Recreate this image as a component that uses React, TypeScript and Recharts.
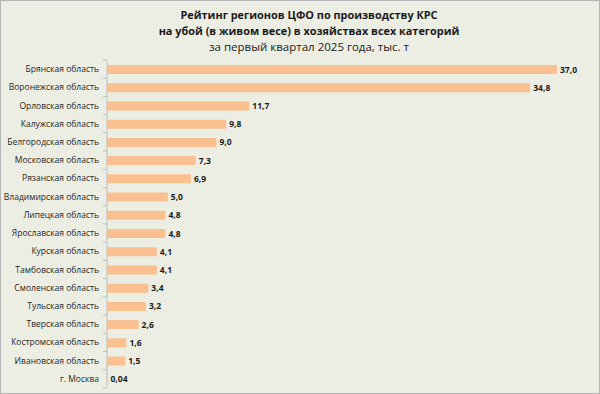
import React from 'react';
import { BarChart, Bar, XAxis, YAxis, LabelList } from 'recharts';

const regions = [
  'Брянская область',
  'Воронежская область',
  'Орловская область',
  'Калужская область',
  'Белгородская область',
  'Московская область',
  'Рязанская область',
  'Владимирская область',
  'Липецкая область',
  'Ярославская область',
  'Курская область',
  'Тамбовская область',
  'Смоленская область',
  'Тульская область',
  'Тверская область',
  'Костромская область',
  'Ивановская область',
  'г. Москва',
];
const values = [37.0, 34.8, 11.7, 9.8, 9.0, 7.3, 6.9, 5.0, 4.8, 4.8, 4.1, 4.1, 3.4, 3.2, 2.6, 1.6, 1.5, 0.04];

const titleLines = [
  'Рейтинг регионов ЦФО по производству КРС',
  'на убой (в живом весе) в хозяйствах  всех категорий',
];
const subtitle = 'за первый квартал 2025 года, тыс. т';

const data = regions.map((r, i) => ({ region: r, value: values[i] }));

const W = 600;
const H = 394;
const M_TOP = 60;
const M_BOTTOM = 6;
const BAND = (H - M_TOP - M_BOTTOM) / data.length;
const FONT = '"Open Sans", "Noto Sans", sans-serif';
const TITLE_X = 309;

const fmt = (v: any) => {
  const n = Number(v);
  return (n < 1 ? n.toFixed(2) : n.toFixed(1)).replace('.', ',');
};

const Tick = (props: any) => {
  const { x, y, payload, index } = props;
  const ax = x + 8;
  return (
    <g>
      <line x1={ax - 4} x2={ax} y1={y - BAND / 2} y2={y - BAND / 2} stroke="#BFBFBF" />
      {index === data.length - 1 && (
        <line x1={ax - 4} x2={ax} y1={y + BAND / 2} y2={y + BAND / 2} stroke="#BFBFBF" />
      )}
      <text x={x} y={y} dy={3} textAnchor="end" fontSize={8.5} fill="#262626" fontFamily={FONT}>
        {payload.value}
      </text>
    </g>
  );
};

export default function App() {
  return (
    <div style={{ position: 'fixed', left: 0, top: 0, width: W, height: H, background: '#EDEEE3', boxSizing: 'border-box' }}>
      <svg width={W} height={H} style={{ position: 'absolute', left: 0, top: 0 }}>
        <rect x={0.5} y={0.5} width={W - 1} height={H - 1} fill="#EDEEE3" stroke="#B5B5B5" />
        <text x={TITLE_X} y={19} textAnchor="middle" fontSize={10.9} fontWeight="bold" fill="#1a1a1a" fontFamily={FONT}>
          {titleLines[0]}
        </text>
        <text x={TITLE_X} y={35} textAnchor="middle" fontSize={10.9} fontWeight="bold" fill="#1a1a1a" fontFamily={FONT}>
          {titleLines[1]}
        </text>
        <text x={TITLE_X} y={51} textAnchor="middle" fontSize={11.5} fill="#1a1a1a" fontFamily={FONT}>
          {subtitle}
        </text>
      </svg>
      <div style={{ position: 'absolute', left: 0, top: 0 }}>
        <BarChart
          width={W}
          height={H}
          data={data}
          layout="vertical"
          margin={{ top: M_TOP, right: 43, bottom: M_BOTTOM, left: 0 }}
          barCategoryGap={0}
        >
          <XAxis type="number" domain={[0, 37]} hide />
          <YAxis
            type="category"
            dataKey="region"
            width={107}
            axisLine={{ stroke: '#BFBFBF' }}
            tickLine={false}
            tickSize={0}
            tickMargin={8}
            interval={0}
            tick={<Tick />}
          />
          <Bar dataKey="value" fill="#FAC090" barSize={9} isAnimationActive={false}>
            <LabelList
              dataKey="value"
              position="right"
              offset={3}
              formatter={fmt}
              style={{ fontSize: 8.5, fontWeight: 'bold', fill: '#1a1a1a', fontFamily: FONT }}
            />
          </Bar>
        </BarChart>
      </div>
    </div>
  );
}
